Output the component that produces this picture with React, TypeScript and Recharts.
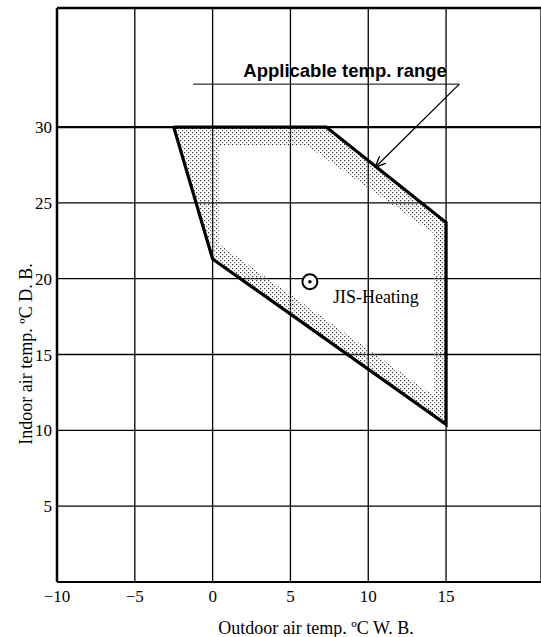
import React from "react";
import {
  ComposedChart,
  Area,
  Line,
  Scatter,
  XAxis,
  YAxis,
  CartesianGrid,
  ReferenceLine,
} from "recharts";

// axis ticks
const xTicks = [-10, -5, 0, 5, 10, 15];
const yTicks = [5, 10, 15, 20, 25, 30];

// outer boundary of the applicable range (closed)
const outline = [
  { x: -2.5, y: 30 },
  { x: 7.3, y: 30 },
  { x: 15, y: 23.7 },
  { x: 15, y: 10.4 },
  { x: 0, y: 21.3 },
  { x: -2.5, y: 30 },
];

// stippled band: left side + lower strip + right side
const bandLower = [
  { x: -2.5, r: [30, 30] },
  { x: 0, r: [21.3, 30] },
  { x: 0.4, r: [21.0, 30] },
  { x: 0.4, r: [21.0, 22.3] },
  { x: 14.2, r: [11.0, 12.3] },
  { x: 14.2, r: [11.0, 24.35] },
  { x: 15, r: [10.4, 23.7] },
];

// stippled band: upper strip
const bandUpper = [
  { x: 0.4, r: [28.8, 30] },
  { x: 6, r: [28.8, 30] },
  { x: 7.3, r: [27.9, 30] },
  { x: 14.2, r: [23.0, 24.35] },
];

const underline = [
  { x: -1.25, y: 32.83 },
  { x: 15.85, y: 32.83 },
];
const arrow = [
  { x: 15.85, y: 32.83 },
  { x: 10.45, y: 27.35 },
];

const jisPoint = [{ x: 6.25, y: 19.8 }];
const rangeTitle = [{ x: 15.05, y: 33.3 }];

const serif = "'Liberation Serif', 'Times New Roman', serif";
const sans = "'Liberation Sans', Arial, sans-serif";

const JisShape = (props: any) => {
  const { cx, cy } = props;
  return (
    <g>
      <circle cx={cx} cy={cy} r={7.5} fill="#fff" stroke="#000" strokeWidth={2} />
      <circle cx={cx} cy={cy} r={1.8} fill="#000" />
      <text x={cx + 23} y={cy + 21} fontFamily={serif} fontSize={18} fill="#000">
        JIS-Heating
      </text>
    </g>
  );
};

const TitleShape = (props: any) => {
  const { cx, cy } = props;
  return (
    <text x={cx} y={cy} textAnchor="end" fontFamily={sans} fontWeight="bold" fontSize={18.5} fill="#000">
      Applicable temp. range
    </text>
  );
};

const XTitle = (props: any) => {
  const { viewBox } = props;
  return (
    <text
      x={viewBox.x + viewBox.width / 2 + 17}
      y={viewBox.y + 52}
      textAnchor="middle"
      fontFamily={serif}
      fontSize={18}
      fill="#000"
    >
      Outdoor air temp. ºC W. B.
    </text>
  );
};

const YTitle = (props: any) => {
  const { viewBox } = props;
  const cx = viewBox.x + 26;
  const cy = 354;
  return (
    <text
      x={cx}
      y={cy}
      transform={`rotate(-90, ${cx}, ${cy})`}
      textAnchor="middle"
      dominantBaseline="central"
      fontFamily={serif}
      fontSize={18}
      fill="#000"
    >
      Indoor air temp. ºC D. B.
    </text>
  );
};

const App = () => {
  return (
    <div style={{ position: "absolute", left: 0, top: 0, background: "#fff" }}>
      <ComposedChart
        width={541}
        height={637}
        margin={{ top: 8, right: 0, left: 0, bottom: 0 }}
      >
        <defs>
          <pattern id="stipple" width="4" height="4" patternUnits="userSpaceOnUse">
            <rect x="0" y="0" width="1.2" height="1.2" fill="#333" />
            <rect x="2" y="2" width="1.2" height="1.2" fill="#666" />
          </pattern>
          <marker
            id="arrowHead"
            viewBox="0 0 12 10"
            refX="11"
            refY="5"
            markerWidth="12"
            markerHeight="10"
            markerUnits="userSpaceOnUse"
            orient="auto"
          >
            <path d="M0,0 L11,5 L0,10" fill="none" stroke="#000" strokeWidth={1.4} />
          </marker>
        </defs>
        <CartesianGrid stroke="#000" strokeWidth={1.3} />
        <XAxis
          dataKey="x"
          type="number"
          domain={[-10, 21.1]}
          ticks={xTicks}
          tickFormatter={(v: number) => (v < 0 ? `\u2212${Math.abs(v)}` : `${v}`)}
          tickLine={false}
          tickSize={6}
          tickMargin={2}
          height={55}
          axisLine={{ stroke: "#000", strokeWidth: 2 }}
          tick={{ fill: "#000", fontFamily: serif, fontSize: 17 }}
          label={<XTitle />}
        />
        <YAxis
          dataKey="y"
          type="number"
          domain={[0, 37.85]}
          ticks={yTicks}
          tickLine={false}
          tickSize={3}
          tickMargin={2}
          width={57}
          axisLine={{ stroke: "#000", strokeWidth: 2.5 }}
          tick={{ fill: "#000", fontFamily: serif, fontSize: 17 }}
          label={<YTitle />}
        />
        <ReferenceLine y={37.85} stroke="#000" strokeWidth={2.5} />
        <ReferenceLine y={30} stroke="#000" strokeWidth={2.2} />
        <Area
          data={bandLower}
          dataKey="r"
          type="linear"
          stroke="none"
          fill="url(#stipple)"
          fillOpacity={1}
          dot={false}
          activeDot={false}
          isAnimationActive={false}
        />
        <Area
          data={bandUpper}
          dataKey="r"
          type="linear"
          stroke="none"
          fill="url(#stipple)"
          fillOpacity={1}
          dot={false}
          activeDot={false}
          isAnimationActive={false}
        />
        <Line
          data={outline}
          dataKey="y"
          type="linear"
          stroke="#000"
          strokeWidth={3.2}
          strokeLinejoin="miter"
          dot={false}
          activeDot={false}
          isAnimationActive={false}
        />
        <Line
          data={underline}
          dataKey="y"
          type="linear"
          stroke="#000"
          strokeWidth={1}
          dot={false}
          activeDot={false}
          isAnimationActive={false}
        />
        <Line
          data={arrow}
          dataKey="y"
          type="linear"
          stroke="#000"
          strokeWidth={1.3}
          markerEnd="url(#arrowHead)"
          dot={false}
          activeDot={false}
          isAnimationActive={false}
        />
        <Scatter data={jisPoint} dataKey="y" shape={<JisShape />} isAnimationActive={false} />
        <Scatter data={rangeTitle} dataKey="y" shape={<TitleShape />} isAnimationActive={false} />
      </ComposedChart>
    </div>
  );
};

export default App;
